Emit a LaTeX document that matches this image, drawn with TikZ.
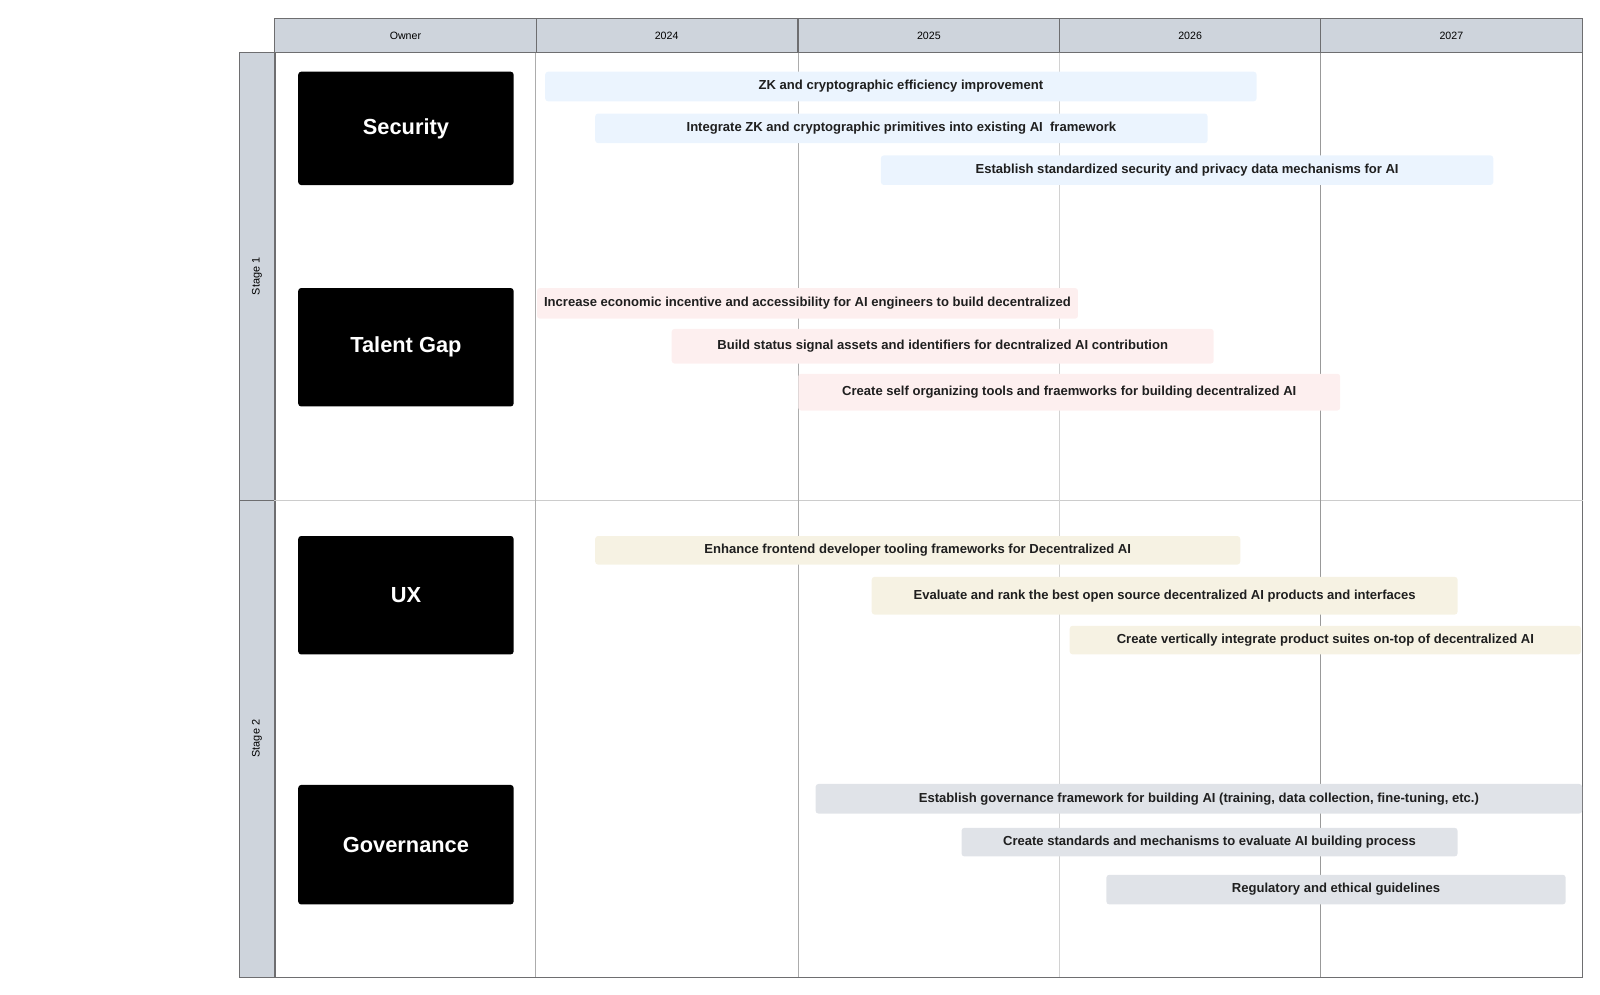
\documentclass[tikz,border=0pt]{standalone}
\usepackage{fontspec}
\setmainfont{Liberation Sans}
\usetikzlibrary{shapes,positioning,calc}

\definecolor{headgray}{RGB}{206,212,220}
\definecolor{linegray}{RGB}{110,110,112}
\definecolor{secblue}{RGB}{235,244,254}
\definecolor{talpink}{RGB}{253,239,239}
\definecolor{uxbeige}{RGB}{246,242,227}
\definecolor{govgray}{RGB}{224,227,232}

\tikzset{
  headcell/.style={draw=linegray, fill=headgray, rectangle, anchor=north west, inner sep=0pt,
    minimum width=6.4cm, minimum height=0.825cm, font=\fontsize{7.4}{9}\selectfont},
  stagecell/.style={draw=linegray, fill=headgray, rectangle, anchor=north west, inner sep=0pt,
    minimum width=0.875cm},
  ownerbox/.style={fill=black, rounded corners=2pt, anchor=north west, inner sep=0pt,
    minimum width=5.275cm, text=white, font=\bfseries\fontsize{15.2}{18}\selectfont},
  taskbar/.style={rounded corners=2pt, anchor=north west, inner sep=0pt, text=black!88,
    font=\bfseries\fontsize{9.1}{11}\selectfont},
}

\begin{document}
\begin{tikzpicture}[x=0.025cm, y=-0.025cm]

\useasboundingbox (0,0) rectangle (1568,975);

% stages
\node[stagecell, minimum height=10.975cm] (s1) at (234,51) {};
\node[stagecell, minimum height=11.675cm] (s2) at (234,490) {};
\node[rotate=90, font=\fontsize{7.6}{9}\selectfont] at (s1.center) {Stage 1};
\node[rotate=90, font=\fontsize{7.6}{9}\selectfont] at (s2.center) {Stage 2};

% header row
\node[headcell] (hown) at (269,18) {Owner};
\node[headcell] (h2024) at (525,18) {2024};
\node[headcell] (h2025) at (782,18) {2025};
\node[headcell] (h2026) at (1038,18) {2026};
\node[headcell] (h2027) at (1294,18) {2027};

\node[draw=linegray, rectangle, anchor=north west, minimum width=32.025cm, minimum height=22.65cm] (body) at (269,51) {};

\draw[gray!40] (body.west |- s1.south) -- (body.east |- s1.south);
\draw[gray!65] (h2024.south west) -- (h2024.south west |- body.south);
\draw[gray!65] (h2025.south west) -- (h2025.south west |- body.south);
\draw[gray!35] (h2026.south west) -- (h2026.south west |- body.south);
\draw[gray!80] (h2027.south west) -- (h2027.south west |- body.south);

% owners
\node[ownerbox, minimum height=2.775cm] (security) at (292,70) {Security};
\node[ownerbox, minimum height=2.9cm] (talent) at (292,282) {Talent Gap};
\node[ownerbox, minimum height=2.9cm] (ux) at (292,525) {UX};
\node[ownerbox, minimum height=2.925cm] (governance) at (292,769) {Governance};

% security tasks
\node[taskbar, fill=secblue, minimum width=17.425cm, minimum height=0.725cm] (sec1) at (534,70) {ZK and cryptographic efficiency improvement};
\node[taskbar, fill=secblue, minimum width=15cm, minimum height=0.725cm] (sec2) at (583,111) {Integrate ZK and cryptographic primitives into existing AI\ \ framework};
\node[taskbar, fill=secblue, minimum width=15cm, minimum height=0.725cm] (sec3) at (863,152) {Establish standardized security and privacy data mechanisms for AI};

% talent gap tasks
\node[taskbar, fill=talpink, minimum width=13.25cm, minimum height=0.75cm] (tal1) at (526,282) {Increase economic incentive and accessibility for AI engineers to build decentralized};
\node[taskbar, fill=talpink, minimum width=13.275cm, minimum height=0.85cm] (tal2) at (658,322) {Build status signal assets and identifiers for decntralized AI contribution};
\node[taskbar, fill=talpink, minimum width=13.275cm, minimum height=0.9cm] (tal3) at (782,366) {Create self organizing tools and fraemworks for building decentralized AI};

% ux tasks
\node[taskbar, fill=uxbeige, minimum width=15.8cm, minimum height=0.7cm] (ux1) at (583,525) {Enhance frontend developer tooling frameworks for Decentralized AI};
\node[taskbar, fill=uxbeige, minimum width=14.35cm, minimum height=0.925cm] (ux2) at (854,565) {Evaluate and rank the best open source decentralized AI products and interfaces};
\node[taskbar, fill=uxbeige, minimum width=12.525cm, minimum height=0.7cm] (ux3) at (1048,613) {Create vertically integrate product suites on-top of decentralized AI};

% governance tasks
\node[taskbar, fill=govgray, minimum width=18.775cm, minimum height=0.725cm] (gov1) at (799,768) {Establish governance framework for building AI (training, data collection, fine-tuning, etc.)};
\node[taskbar, fill=govgray, minimum width=12.15cm, minimum height=0.7cm] (gov2) at (942,811) {Create standards and mechanisms to evaluate AI building process};
\node[taskbar, fill=govgray, minimum width=11.25cm, minimum height=0.725cm] (gov3) at (1084,857) {Regulatory and ethical guidelines};

\end{tikzpicture}
\end{document}
